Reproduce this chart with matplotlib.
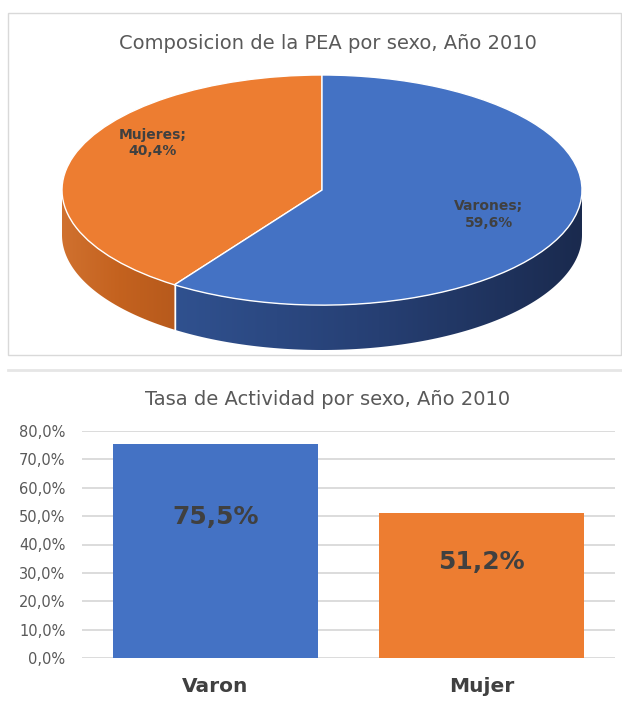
import numpy as np
import matplotlib.pyplot as plt
from matplotlib.patches import Polygon, Rectangle
from matplotlib.lines import Line2D
from matplotlib.colors import LinearSegmentedColormap

plt.rcParams['font.family'] = ['DejaVu Sans']

# PEA composition by sex, 2010
pie_labels = ['Mujeres', 'Varones']
pie_values = [40.4, 59.6]

# Activity rate by sex, 2010
bar_labels = ['Varon', 'Mujer']
bar_values = [75.5, 51.2]
y_ticks = [0, 10, 20, 30, 40, 50, 60, 70, 80]

BLUE = '#4472C4'
ORANGE = '#ED7D31'
TEXT = '#404040'
GRAY = '#595959'
LINE = '#d9d9d9'


def pct(v):
    return f"{v:.1f}%".replace('.', ',')


W, H = 622, 708
fig = plt.figure(figsize=(W / 100, H / 100), dpi=100)
fig.patch.set_facecolor('white')

# frame around the pie chart and separator above the bar chart
fig.add_artist(Rectangle((8 / W, 1 - 355 / H), 613 / W, 342 / H, transform=fig.transFigure,
                         fill=False, edgecolor=LINE, linewidth=1))
fig.add_artist(Line2D([8 / W, 1], [1 - 370 / H] * 2, transform=fig.transFigure,
                      color='#e6e6e6', linewidth=2))

# ---- 3D-looking pie ----
depth = 0.39
ax1 = fig.add_axes([62 / W, 1 - 350 / H, 520 / W, 275 / H])
wedges, _ = ax1.pie(pie_values, colors=[ORANGE, BLUE], startangle=90, counterclock=True,
                    wedgeprops=dict(edgecolor='white', linewidth=1))
for w in wedges:
    w.set_zorder(3)

side_cmaps = {
    0: LinearSegmentedColormap.from_list('os', ['#d0712f', '#c4621f', '#b75a1c']),
    1: LinearSegmentedColormap.from_list('bs', ['#30518f', '#263f73', '#1a2a4e']),
}
for i, w in enumerate(wedges):
    lo = max(w.theta1, 180)
    hi = min(w.theta2, 360)
    if hi <= lo:
        continue
    t = np.radians(np.linspace(lo, hi, 120))
    top = np.column_stack([np.cos(t), np.sin(t)])
    bot = np.column_stack([np.cos(t), np.sin(t) - depth])[::-1]
    poly = Polygon(np.vstack([top, bot]), closed=True, transform=ax1.transData)
    x0, x1 = np.cos(t).min(), np.cos(t).max()
    grad = np.linspace(0, 1, 256).reshape(1, -1)
    im = ax1.imshow(grad, extent=[x0, x1, -1 - depth, 0.2], aspect='auto',
                    cmap=side_cmaps[i], zorder=1)
    im.set_clip_path(poly)
    # white seam where the slices meet on the side
    if lo > 180:
        xs, ys = np.cos(np.radians(lo)), np.sin(np.radians(lo))
        ax1.plot([xs, xs], [ys, ys - depth], color='white', linewidth=1, zorder=2)

ax1.set_aspect('auto')
ax1.set_xlim(-1, 1)
ax1.set_ylim(-1 - depth, 1)
ax1.axis('off')

ax1.text(-0.65, 0.41, f"{pie_labels[0]};\n{pct(pie_values[0])}", ha='center', va='center',
         fontsize=10, fontweight='bold', color=TEXT, zorder=5, linespacing=1.25)
ax1.text(0.642, -0.21, f"{pie_labels[1]};\n{pct(pie_values[1])}", ha='center', va='center',
         fontsize=10, fontweight='bold', color=TEXT, zorder=5, linespacing=1.25)

fig.text(328 / W, 1 - 49 / H, 'Composicion de la PEA por sexo, Año 2010',
         ha='center', va='baseline', fontsize=14, color=GRAY)

# ---- bar chart ----
ax2 = fig.add_axes([82 / W, 50 / H, 533 / W, 227 / H])
x = np.arange(len(bar_values))
ax2.bar(x, bar_values, width=0.77, color=[BLUE, ORANGE], zorder=2)
for yv in y_ticks:
    ax2.axhline(yv, color=LINE, linewidth=1.3, zorder=1)
for xi, v in zip(x, bar_values):
    ax2.text(xi, v * 0.66, pct(v), ha='center', va='center', fontsize=18,
             fontweight='bold', color=TEXT, zorder=3)

ax2.set_xlim(-0.5, 1.5)
ax2.set_ylim(0, 80)
ax2.set_yticks(y_ticks)
ax2.set_yticklabels([pct(v) for v in y_ticks], fontsize=10.5, color=GRAY)
ax2.set_xticks(x)
ax2.set_xticklabels(bar_labels, fontsize=14.5, fontweight='bold', color=TEXT)
ax2.tick_params(axis='y', length=0, pad=12)
ax2.tick_params(axis='x', length=0, pad=14)
for s in ax2.spines.values():
    s.set_visible(False)

fig.text(328 / W, 1 - 405 / H, 'Tasa de Actividad por sexo, Año 2010',
         ha='center', va='baseline', fontsize=14, color=GRAY)

fig.savefig('out.png', dpi=100)
